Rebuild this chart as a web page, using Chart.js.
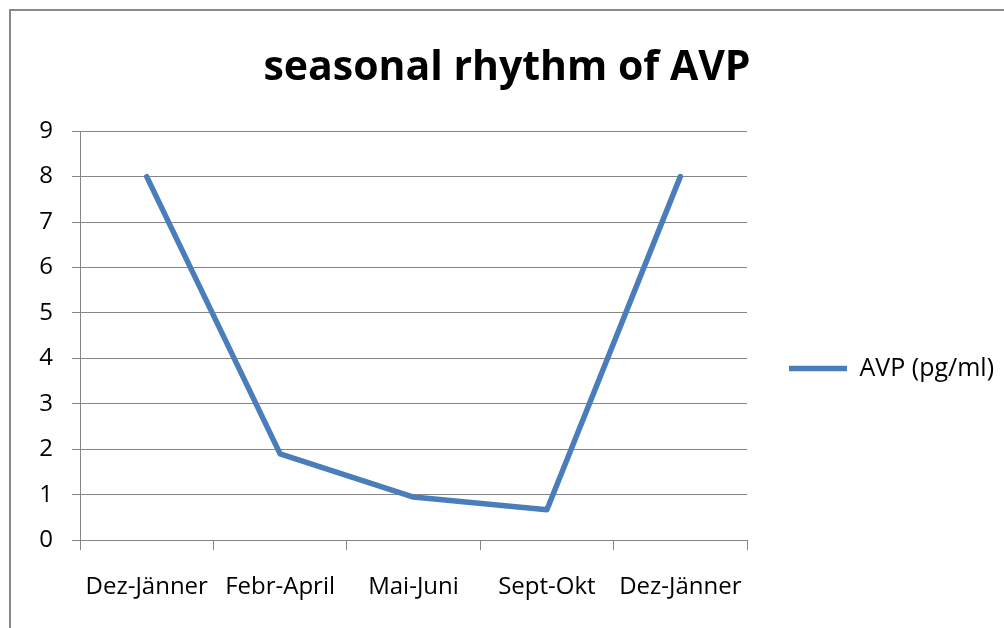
<!DOCTYPE html>
<html lang="de">
<head>
<meta charset="UTF-8">
<title>seasonal rhythm of AVP</title>
<script src="https://cdn.jsdelivr.net/npm/chart.js"></script>
<style>
  body { margin: 0; background: #fff; }
  .wrap { position: relative; width: 1004px; height: 628px; overflow: hidden; }
  .frame { position: absolute; left: 9px; top: 9px; width: 1100px; height: 700px;
           border-left: 2px solid #8a8a8a; border-top: 2px solid #8a8a8a; }
  canvas { position: absolute; left: 0; top: 0; }
</style>
</head>
<body>
<div class="wrap">
  <div class="frame"></div>
  <canvas id="grafico" width="1004" height="628"></canvas>
</div>
<script>
const periodos = ['Dez-Jänner', 'Febr-April', 'Mai-Juni', 'Sept-Okt', 'Dez-Jänner'];
const avp = [8, 1.9, 0.95, 0.67, 8];
const ticksY = [0, 1, 2, 3, 4, 5, 6, 7, 8, 9];

const cinza = '#868686';
Chart.defaults.font.family = "'Open Sans', sans-serif";
Chart.defaults.color = '#000';

// ajustes finos de posição: título um pouco à direita, legenda à direita e mais abaixo
const ajustarBlocos = {
    id: 'ajustarBlocos',
    afterLayout(chart) {
        const tt = chart.titleBlock;
        tt.left += 16;
        tt.right += 16;
        const lg = chart.legend;
        lg.left += 22;
        lg.right += 22;
        lg.top += 56;
        lg.bottom += 56;
    }
};

new Chart(document.getElementById('grafico'), {
    type: 'line',
    data: {
        labels: periodos,
        datasets: [{
            label: 'AVP (pg/ml)',
            data: avp,
            borderColor: '#4a7ebb',
            backgroundColor: '#4a7ebb',
            borderWidth: 5.5,
            borderCapStyle: 'round',
            borderJoinStyle: 'round',
            pointRadius: 0,
            tension: 0
        }]
    },
    options: {
        responsive: false,
        animation: false,
        layout: { padding: { left: 0, right: 22, top: 0, bottom: 3 } },
        plugins: {
            title: {
                display: true,
                text: 'seasonal rhythm of AVP',
                color: '#000',
                font: { size: 41, weight: 'bold' },
                padding: { top: 44, bottom: 38 }
            },
            legend: {
                position: 'right',
                labels: {
                    usePointStyle: true,
                    pointStyle: 'line',
                    pointStyleWidth: 58,
                    padding: 20,
                    color: '#000',
                    font: { size: 25 }
                }
            },
            tooltip: { enabled: false }
        },
        scales: {
            x: {
                offset: true,
                grid: { offset: true, drawOnChartArea: false, color: cinza, tickLength: 10 },
                border: { color: cinza },
                ticks: { padding: 23, font: { size: 24 }, color: '#000', maxRotation: 0 }
            },
            y: {
                min: ticksY[0],
                max: ticksY[ticksY.length - 1],
                afterBuildTicks: (scale) => { scale.ticks = ticksY.map(v => ({ value: v })); },
                afterFit: (scale) => { scale.width = 80; },
                grid: { color: cinza, tickLength: 8 },
                border: { color: cinza },
                ticks: { padding: 19, font: { size: 24 }, color: '#000' }
            }
        }
    },
    plugins: [ajustarBlocos]
});
</script>
</body>
</html>
